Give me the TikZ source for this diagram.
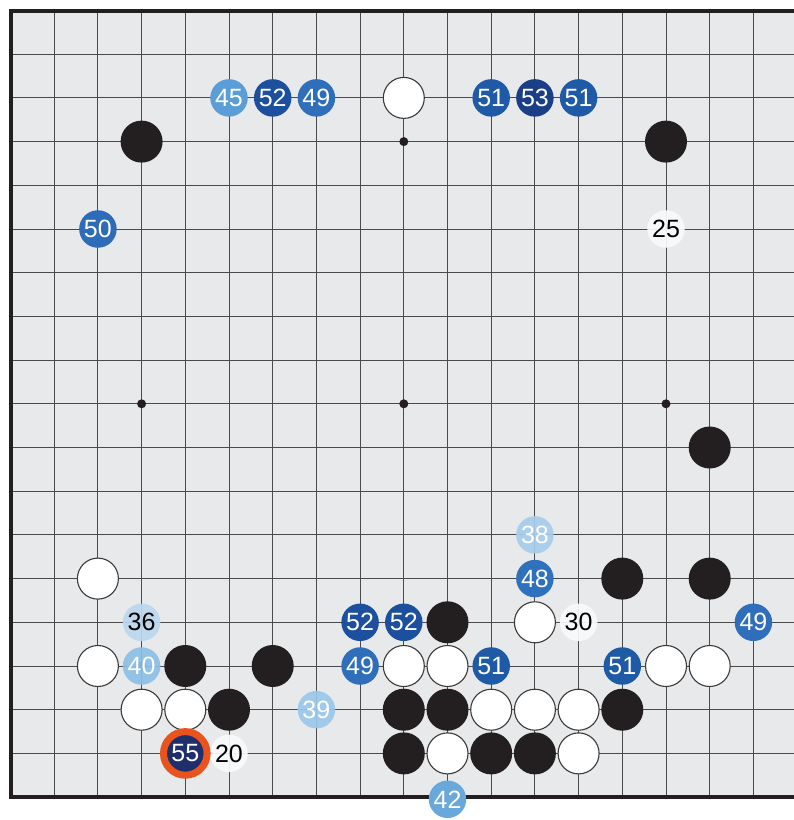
\documentclass[tikz,border=0pt]{standalone}
\usepackage{fontspec}
\setmainfont{Liberation Sans}
\definecolor{boardbg}{HTML}{E8E9EB}
\definecolor{gridc}{HTML}{4A4A4A}
\definecolor{borderc}{HTML}{231F20}
\definecolor{stoneblack}{HTML}{231F20}
\definecolor{wline}{HTML}{3A3A3A}
\definecolor{cThirtySix}{HTML}{BBD7EF}
\definecolor{cThirtyEight}{HTML}{A6CDEC}
\definecolor{cThirtyNine}{HTML}{9CC8EA}
\definecolor{cForty}{HTML}{8BBFE5}
\definecolor{cFortyTwo}{HTML}{68A8DB}
\definecolor{cFortyFive}{HTML}{5B9DD6}
\definecolor{cFortyEight}{HTML}{2F71BC}
\definecolor{cFortyNine}{HTML}{2F6EBA}
\definecolor{cFifty}{HTML}{2E6BB8}
\definecolor{cFiftyOne}{HTML}{1F5AA7}
\definecolor{cFiftyTwo}{HTML}{1C4F9D}
\definecolor{cFiftyThree}{HTML}{1B3F86}
\definecolor{cFiftyFive}{HTML}{1E2F6C}
\definecolor{ringorange}{HTML}{E9541E}
\definecolor{labelwhite}{HTML}{F9FAFB}
\begin{document}
\begin{tikzpicture}[x=43.7pt,y=-43.7pt,
  stone/.style={circle, inner sep=0pt, minimum size=42pt},
  bstone/.style={stone, fill=stoneblack},
  wstone/.style={stone, minimum size=41pt, fill=white, draw=wline, line width=1.1pt},
  mv/.style={circle, inner sep=0pt, minimum size=37.5pt, text=white, font=\fontsize{25}{25}\selectfont},
  lightmv/.style={mv, fill opacity=0.92, text opacity=1},
  lbl/.style={lightmv, fill=labelwhite, text=black},
  starpt/.style={circle, inner sep=0pt, minimum size=9pt, fill=stoneblack},
  gridline/.style={gridc, line width=1pt}
]
\useasboundingbox (-0.2403,-0.2403) rectangle (17.929,18.524);
\clip (-0.2403,-0.2403) rectangle (17.929,18.524);
% board
\fill[boardbg] (0,0) rectangle (18.5,18);
\foreach \i in {1,...,17} {
  \draw[gridline] (0,\i) -- (18.5,\i);
}
\foreach \i in {1,...,18} {
  \draw[gridline] (\i,0) -- (\i,18);
}
\draw[borderc, line width=4pt, line cap=rect] (18.6,0) -- (0,0) -- (0,18) -- (18.6,18);
% star points
\foreach \c/\r in {3/3,9/3,15/3,3/9,9/9,15/9,3/15,9/15,15/15} {
  \node[starpt] (s\c-\r) at (\c,\r) {};
}
% black stones
\foreach \c/\r in {3/3,15/3,16/10,14/13,16/13,10/14,4/15,6/15,5/16,9/16,10/16,14/16,9/17,11/17,12/17} {
  \node[bstone] (b\c-\r) at (\c,\r) {};
}
% white stones
\foreach \c/\r in {9/2,2/13,12/14,2/15,9/15,10/15,15/15,16/15,3/16,4/16,11/16,12/16,13/16,10/17,13/17} {
  \node[wstone] (w\c-\r) at (\c,\r) {};
}
% white labels
\node[lbl] (m25) at (15,5) {25};
\node[lbl] (m30) at (13,14) {30};
\node[lbl] (m20) at (5,17) {20};
% numbered moves
\node[lightmv, fill=cThirtySix, text=black] (m36) at (3,14) {36};
\node[lightmv, fill=cThirtyEight] (m38) at (12,12) {38};
\node[lightmv, fill=cThirtyNine] (m39) at (7,16) {39};
\node[lightmv, fill=cForty] (m40) at (3,15) {40};
\node[mv, fill=cFortyTwo] (m42) at (10,18.05) {42};
\node[mv, fill=cFortyFive] (m45) at (5,2) {45};
\node[mv, fill=cFortyEight] (m48) at (12,13) {48};
\node[mv, fill=cFortyNine] (m49a) at (7,2) {49};
\node[mv, fill=cFortyNine] (m49b) at (8,15) {49};
\node[mv, fill=cFortyNine] (m49c) at (17,14) {49};
\node[mv, fill=cFifty] (m50) at (2,5) {50};
\node[mv, fill=cFiftyOne] (m51a) at (11,2) {51};
\node[mv, fill=cFiftyOne] (m51b) at (13,2) {51};
\node[mv, fill=cFiftyOne] (m51c) at (11,15) {51};
\node[mv, fill=cFiftyOne] (m51d) at (14,15) {51};
\node[mv, fill=cFiftyTwo] (m52a) at (6,2) {52};
\node[mv, fill=cFiftyTwo] (m52b) at (8,14) {52};
\node[mv, fill=cFiftyTwo] (m52c) at (9,14) {52};
\node[mv, fill=cFiftyThree] (m53) at (12,2) {53};
\node[mv, fill=cFiftyFive, draw=ringorange, line width=7pt, minimum size=43.6pt] (m55) at (4,17) {55};
\end{tikzpicture}
\end{document}
